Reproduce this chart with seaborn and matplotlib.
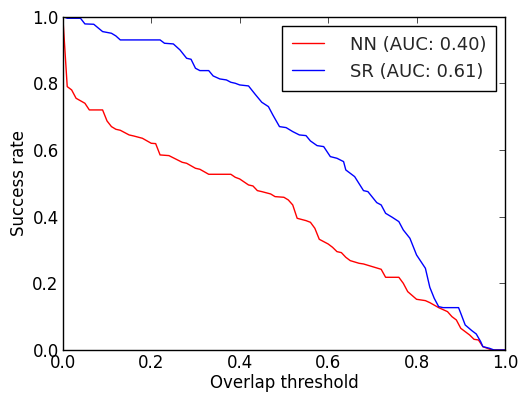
import seaborn as sns
import matplotlib
matplotlib.use('Agg')
import matplotlib.pyplot as plt
import pandas as pd

# success rate curves
nn_x = [0.0, 0.01, 0.02, 0.03, 0.05, 0.06, 0.09, 0.10, 0.11, 0.12, 0.13, 0.15, 0.16, 0.18, 0.20,
        0.21, 0.22, 0.24, 0.27, 0.28, 0.30, 0.31, 0.33, 0.38, 0.39, 0.40, 0.42, 0.43, 0.44, 0.45,
        0.47, 0.48, 0.50, 0.51, 0.52, 0.53, 0.55, 0.56, 0.57, 0.58, 0.60, 0.61, 0.62, 0.63, 0.64,
        0.65, 0.67, 0.68, 0.70, 0.72, 0.73, 0.76, 0.77, 0.78, 0.80, 0.82, 0.83, 0.85, 0.87, 0.88,
        0.89, 0.90, 0.92, 0.93, 0.94, 0.95, 0.96, 0.97, 1.0]
nn_y = [1.0, 0.79, 0.78, 0.755, 0.74, 0.72, 0.72, 0.687, 0.67, 0.662, 0.659, 0.645, 0.642, 0.635, 0.62,
        0.619, 0.585, 0.583, 0.563, 0.56, 0.545, 0.542, 0.527, 0.527, 0.518, 0.513, 0.495, 0.492, 0.478, 0.475,
        0.468, 0.46, 0.458, 0.45, 0.435, 0.395, 0.388, 0.383, 0.365, 0.332, 0.318, 0.308, 0.295, 0.292, 0.278,
        0.268, 0.26, 0.258, 0.25, 0.242, 0.218, 0.218, 0.2, 0.175, 0.152, 0.148, 0.142, 0.127, 0.115, 0.10,
        0.09, 0.065, 0.045, 0.032, 0.03, 0.01, 0.005, 0.0, 0.0]

sr_x = [0.0, 0.01, 0.04, 0.05, 0.07, 0.08, 0.09, 0.11, 0.12, 0.13, 0.22, 0.23, 0.25, 0.265, 0.28,
        0.29, 0.30, 0.31, 0.33, 0.34, 0.355, 0.37, 0.38, 0.39, 0.40, 0.42, 0.435, 0.45, 0.465, 0.475,
        0.49, 0.505, 0.52, 0.535, 0.55, 0.56, 0.575, 0.59, 0.605, 0.62, 0.635, 0.64, 0.66, 0.68, 0.69,
        0.71, 0.72, 0.73, 0.745, 0.76, 0.77, 0.785, 0.80, 0.82, 0.83, 0.84, 0.85, 0.86, 0.895, 0.90,
        0.91, 0.925, 0.935, 0.945, 0.95, 0.965, 0.975, 1.0]
sr_y = [1.0, 0.995, 0.995, 0.978, 0.977, 0.966, 0.955, 0.95, 0.942, 0.93, 0.93, 0.92, 0.918, 0.90, 0.875,
        0.872, 0.845, 0.838, 0.838, 0.822, 0.813, 0.81, 0.803, 0.80, 0.795, 0.792, 0.767, 0.743, 0.73, 0.705,
        0.67, 0.667, 0.655, 0.645, 0.643, 0.627, 0.613, 0.61, 0.58, 0.575, 0.565, 0.54, 0.52, 0.478, 0.475,
        0.442, 0.435, 0.41, 0.398, 0.385, 0.36, 0.335, 0.285, 0.245, 0.188, 0.155, 0.13, 0.127, 0.127, 0.11,
        0.075, 0.058, 0.048, 0.025, 0.01, 0.005, 0.0, 0.0]

labels = ['NN (AUC: 0.40)', 'SR (AUC: 0.61)']
colors = ['#ff0000', '#0000ff']

df = pd.concat([
    pd.DataFrame({'Overlap threshold': nn_x, 'Success rate': nn_y, 'Method': labels[0]}),
    pd.DataFrame({'Overlap threshold': sr_x, 'Success rate': sr_y, 'Method': labels[1]}),
])

sns.set_theme(style='white')
plt.rcParams.update({
    'font.family': ['DejaVu Sans'],
    'font.size': 12,
    'axes.edgecolor': 'black',
    'axes.linewidth': 1.0,
    'xtick.direction': 'in',
    'ytick.direction': 'in',
    'xtick.top': True,
    'ytick.right': True,
    'xtick.major.size': 4,
    'ytick.major.size': 4,
    'xtick.major.width': 0.5,
    'ytick.major.width': 0.5,
    'xtick.color': 'black',
    'ytick.color': 'black',
    'xtick.labelsize': 12,
    'ytick.labelsize': 12,
    'axes.labelsize': 12,
    'axes.labelcolor': 'black',
    'xtick.major.pad': 3,
    'ytick.major.pad': 3,
})

fig = plt.figure(figsize=(5.19, 3.95), dpi=100)
ax = fig.add_axes([0.121, 0.114, 0.852, 0.844])
sns.lineplot(data=df, x='Overlap threshold', y='Success rate', hue='Method',
             palette=dict(zip(labels, colors)), estimator=None, sort=False,
             linewidth=1.0, ax=ax)
ax.set_xlim(0, 1)
ax.set_ylim(0, 1)
ax.set_xticks([0.0, 0.2, 0.4, 0.6, 0.8, 1.0])
ax.set_yticks([0.0, 0.2, 0.4, 0.6, 0.8, 1.0])
ax.set_xlabel('Overlap threshold', labelpad=1.5)
ax.set_ylabel('Success rate', labelpad=3)
sns.move_legend(ax, 'upper right', title=None, frameon=True, fancybox=False,
                edgecolor='black', framealpha=1, fontsize=13, handlelength=1.8,
                handletextpad=1.4, borderpad=0.55, labelspacing=0.5,
                borderaxespad=0.5)
ax.get_legend().get_frame().set_linewidth(1.0)

fig.savefig('out.png', dpi=100)
